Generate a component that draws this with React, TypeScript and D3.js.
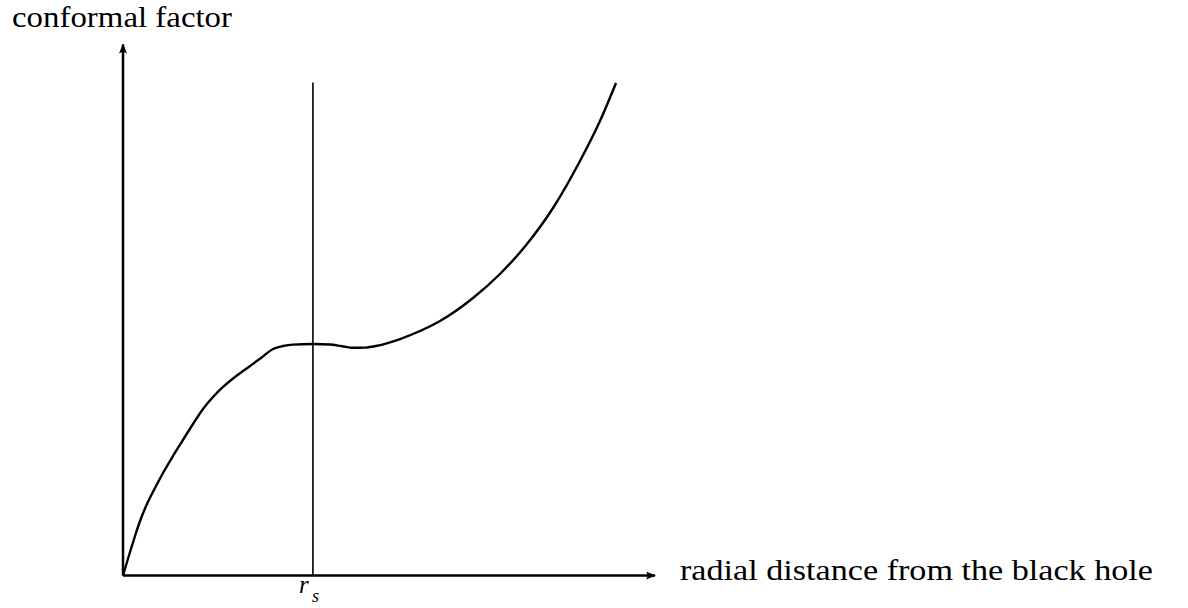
import React from "react";
import * as d3 from "d3";

// radial distance (arbitrary units, 0..100 along the axis)
const radius = [0, 1.32, 2.26, 3.2, 4.51, 6.02, 7.52, 9.4, 11.09, 13.16, 15.04, 16.92, 18.8, 21.05, 23.5, 25.94, 28.2, 30.08, 31.95, 35.71, 38.91, 41.17, 43.23, 45.49, 47.93, 52.07, 55.83, 59.59, 65.79, 70.86, 75.94, 80.83, 85.9, 89.66, 92.67];
// conformal factor (arbitrary units)
const factor = [0, 4.43, 7.45, 10.28, 13.49, 16.51, 19.34, 22.55, 25.28, 28.58, 31.42, 33.68, 35.57, 37.45, 39.25, 41.04, 42.74, 43.3, 43.57, 43.68, 43.58, 43.26, 42.96, 43.0, 43.38, 44.62, 46.13, 48.02, 52.36, 56.89, 62.55, 69.34, 78.21, 85.75, 92.92];

const rs = 35.7;
const rsLineTop = 93.0;
const xLabel = "radial distance from the black hole";
const yLabel = "conformal factor";

const W = 1188;
const H = 608;

export default function App() {
  const x = d3.scaleLinear().domain([0, 100]).range([123, 655]);
  const y = d3.scaleLinear().domain([0, 100]).range([575.5, 45.5]);

  const pts: [number, number][] = radius.map((r, i) => [x(r), y(factor[i])]);
  const line = d3.line().curve(d3.curveMonotoneX);

  const font = "'Liberation Serif', 'DejaVu Serif', serif";

  return (
    <svg
      width={W}
      height={H}
      style={{ position: "absolute", left: 0, top: 0, background: "#fff" }}
    >
      <defs>
        <marker id="arr" viewBox="0 0 10 8" refX="9" refY="4" markerWidth="10" markerHeight="8" markerUnits="userSpaceOnUse" orient="auto">
          <path d="M0,0 L10,4 L0,8 L2,4 Z" fill="#000" />
        </marker>
      </defs>

      {/* axes */}
      <line x1={x(0)} y1={y(0)} x2={x(100)} y2={y(0)} stroke="#000" strokeWidth={2.5} markerEnd="url(#arr)" />
      <line x1={x(0)} y1={y(0)} x2={x(0)} y2={y(100) - 1} stroke="#000" strokeWidth={2.5} markerEnd="url(#arr)" />

      {/* r_s marker line */}
      <line x1={x(rs)} y1={y(0)} x2={x(rs)} y2={y(rsLineTop)} stroke="#000" strokeWidth={1.6} />

      {/* curve */}
      <path d={line(pts) || ""} fill="none" stroke="#000" strokeWidth={2.4} strokeLinejoin="round" />

      {/* labels */}
      <text x={12} y={27} fontFamily={font} fontSize={30} textLength={220} lengthAdjust="spacingAndGlyphs" fill="#000">
        {yLabel}
      </text>
      <text x={680} y={580} fontFamily={font} fontSize={30} textLength={473} lengthAdjust="spacingAndGlyphs" fill="#000">
        {xLabel}
      </text>
      <text x={x(rs) - 14} y={593} fontFamily={font} fontSize={25} fontStyle="italic" fill="#000">
        r
      </text>
      <text x={x(rs) - 1} y={602} fontFamily={font} fontSize={18} fontStyle="italic" fill="#000">
        s
      </text>
    </svg>
  );
}
